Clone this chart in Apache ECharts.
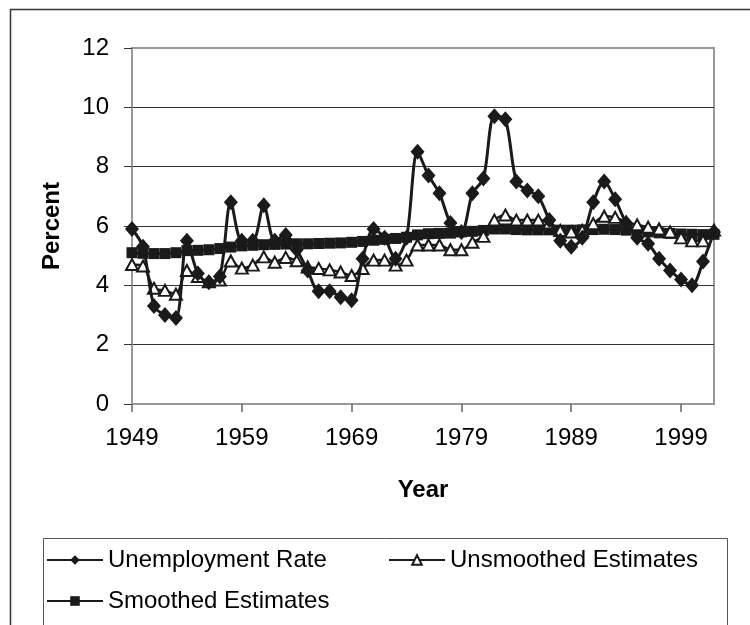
<!DOCTYPE html>
<html>
<head>
    <meta charset="utf-8">
    <title>Unemployment</title>
    <script src="https://cdn.jsdelivr.net/npm/echarts@6/dist/echarts.min.js"></script>
    <style>
        html, body { margin: 0; padding: 0; background: #fff; }
    </style>
</head>
<body>
<div id="main" style="width: 750px;height:625px;"></div>
<script type="text/javascript">
    // 数据
    var years = [];
    for (var y = 1949; y <= 2002; y++) { years.push(String(y)); }

    var unemployment = [5.9, 5.3, 3.3, 3.0, 2.9, 5.5, 4.4, 4.1, 4.3, 6.8,
        5.5, 5.5, 6.7, 5.5, 5.7, 5.2, 4.5, 3.8, 3.8, 3.6,
        3.5, 4.9, 5.9, 5.6, 4.9, 5.6, 8.5, 7.7, 7.1, 6.1,
        5.8, 7.1, 7.6, 9.7, 9.6, 7.5, 7.2, 7.0, 6.2, 5.5,
        5.3, 5.6, 6.8, 7.5, 6.9, 6.1, 5.6, 5.4, 4.9, 4.5,
        4.2, 4.0, 4.8, 5.8];

    var unsmoothed = [4.7, 4.65, 3.9, 3.83, 3.7, 4.5, 4.3, 4.12, 4.18, 4.82,
        4.58, 4.68, 4.96, 4.78, 4.94, 4.83, 4.62, 4.57, 4.52, 4.45,
        4.33, 4.57, 4.85, 4.85, 4.68, 4.85, 5.36, 5.36, 5.36, 5.2,
        5.2, 5.45, 5.65, 6.2, 6.37, 6.2, 6.2, 6.2, 6.1, 5.85,
        5.8, 5.85, 6.08, 6.33, 6.29, 6.13, 6.04, 5.96, 5.9, 5.8,
        5.6, 5.5, 5.5, 5.86];

    var smoothed = [5.1, 5.08, 5.07, 5.07, 5.1, 5.17, 5.18, 5.2, 5.24, 5.29,
        5.33, 5.35, 5.37, 5.38, 5.39, 5.4, 5.4, 5.41, 5.42, 5.43,
        5.45, 5.48, 5.52, 5.55, 5.58, 5.62, 5.7, 5.74, 5.75, 5.76,
        5.8, 5.82, 5.85, 5.9, 5.9, 5.88, 5.87, 5.87, 5.87, 5.86,
        5.86, 5.87, 5.88, 5.89, 5.88, 5.86, 5.83, 5.8, 5.77, 5.75,
        5.73, 5.72, 5.71, 5.72];

    var font = '"Liberation Sans", Arial, sans-serif';
    var ink = '#1a1a1a';

    var myChart = echarts.init(document.getElementById('main'));

    function legendBox(name, left, top) {
        return {
            data: [name],
            left: left,
            top: top,
            padding: 0,
            itemWidth: 56,
            itemHeight: 12,
            itemGap: 6,
            textStyle: { fontFamily: font, fontSize: 24, color: '#000' }
        };
    }

    var option = {
        animation: false,
        backgroundColor: '#fff',
        graphic: [
            {
                type: 'rect',
                shape: { x: 10.5, y: 9.5, width: 900, height: 900 },
                style: { fill: 'none', stroke: '#333', lineWidth: 1.5 },
                silent: true
            },
            {
                type: 'rect',
                shape: { x: 43.5, y: 538.5, width: 684, height: 200 },
                style: { fill: 'none', stroke: '#555', lineWidth: 1 },
                silent: true
            }
        ],
        legend: [
            legendBox('Unemployment Rate', 46, 548),
            legendBox('Unsmoothed Estimates', 388, 548),
            legendBox('Smoothed Estimates', 46, 589)
        ],
        grid: {
            left: 132,
            right: 36,
            top: 48,
            bottom: 221,
            show: true,
            borderColor: '#999',
            borderWidth: 2
        },
        xAxis: {
            type: 'category',
            data: years,
            boundaryGap: false,
            name: 'Year',
            nameLocation: 'middle',
            nameGap: 74,
            nameTextStyle: { fontFamily: font, fontSize: 24, fontWeight: 'bold', color: '#000' },
            axisLine: { lineStyle: { color: '#999', width: 2 } },
            axisTick: { interval: 9, length: 8, lineStyle: { color: '#666', width: 1.5 } },
            axisLabel: { interval: 9, margin: 22, fontFamily: font, fontSize: 24, color: '#000' },
            splitLine: { show: false }
        },
        yAxis: {
            type: 'value',
            min: 0,
            max: 12,
            interval: 2,
            name: 'Percent',
            nameLocation: 'middle',
            nameGap: 68,
            nameRotate: 90,
            nameTextStyle: { fontFamily: font, fontSize: 24, fontWeight: 'bold', color: '#000' },
            axisLine: { show: true, lineStyle: { color: '#999', width: 2 } },
            axisTick: { show: true, length: 8, lineStyle: { color: '#333', width: 1 } },
            axisLabel: { margin: 23, fontFamily: font, fontSize: 24, color: '#000' },
            splitLine: { show: true, showMinLine: false, showMaxLine: false, lineStyle: { color: '#333', width: 1 } }
        },
        series: [
            {
                name: 'Smoothed Estimates',
                type: 'line',
                data: smoothed,
                smooth: 0.3,
                showAllSymbol: true,
                symbol: 'rect',
                symbolSize: 11,
                z: 2,
                lineStyle: { color: ink, width: 3 },
                itemStyle: { color: ink }
            },
            {
                name: 'Unsmoothed Estimates',
                type: 'line',
                data: unsmoothed,
                smooth: 0.3,
                showAllSymbol: true,
                symbol: 'triangle',
                symbolSize: [12, 11],
                z: 3,
                lineStyle: { color: ink, width: 2.5 },
                itemStyle: { color: '#fff', borderColor: ink, borderWidth: 2 }
            },
            {
                name: 'Unemployment Rate',
                type: 'line',
                data: unemployment,
                smooth: 0.3,
                showAllSymbol: true,
                symbol: 'diamond',
                symbolSize: [14, 16],
                z: 4,
                lineStyle: { color: ink, width: 3 },
                itemStyle: { color: ink }
            }
        ]
    };

    myChart.setOption(option);
</script>
</body>
</html>
